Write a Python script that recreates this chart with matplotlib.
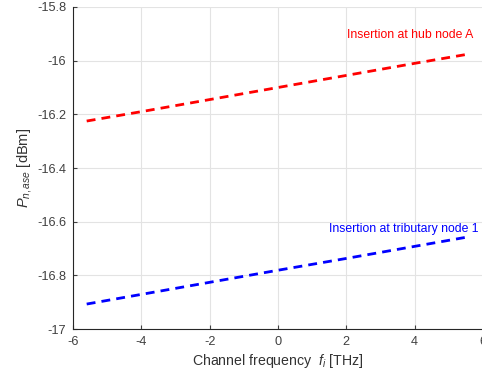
import matplotlib
matplotlib.use("Agg")
import matplotlib.pyplot as plt
import numpy as np

plt.rcParams['font.family'] = ['Liberation Sans', 'DejaVu Sans']
plt.rcParams['mathtext.fontset'] = 'custom'
plt.rcParams['mathtext.it'] = 'Liberation Sans:italic'
plt.rcParams['mathtext.rm'] = 'Liberation Sans'
plt.rcParams['axes.unicode_minus'] = False

freq_thz = [-5.6, -4, -2, 0, 2, 4, 5.6]
p_hub = [-16.225, -16.19, -16.145, -16.10, -16.055, -16.01, -15.975]
p_trib = [-16.907, -16.871, -16.826, -16.781, -16.737, -16.692, -16.656]
x_ticks = [-6, -4, -2, 0, 2, 4, 6]
y_ticks = [-17, -16.8, -16.6, -16.4, -16.2, -16, -15.8]
y_tick_labels = ['-17', '-16.8', '-16.6', '-16.4', '-16.2', '-16', '-15.8']

fig = plt.figure(figsize=(4.82, 3.74), dpi=100)
ax = fig.add_axes([0.1515, 0.1203, 0.8505, 0.861])

ax.plot(freq_thz, p_hub, color='#ff0000', linestyle=(0, (3.2, 2.2)), linewidth=2)
ax.plot(freq_thz, p_trib, color='#0000ff', linestyle=(0, (3.2, 2.2)), linewidth=2)

ax.text(2.01, -15.905, 'Insertion at hub node A', color='#ff0000', fontsize=8.8, va='center')
ax.text(1.50, -16.627, 'Insertion at tributary node 1', color='#0000ff', fontsize=8.8, va='center')

ax.set_xlim(-6, 6)
ax.set_ylim(-17, -15.8)
ax.set_xticks(x_ticks)
ax.set_yticks(y_ticks)
ax.set_yticklabels(y_tick_labels)
ax.grid(True, color='#e3e3e3', linewidth=0.8)
ax.set_axisbelow(True)
ax.tick_params(direction='in', length=3, labelsize=9.2, colors='#404040', pad=5)

for side in ['top', 'right']:
    ax.spines[side].set_visible(False)
for side in ['left', 'bottom']:
    ax.spines[side].set_color('#262626')
    ax.spines[side].set_linewidth(0.8)

ax.set_xlabel('Channel frequency  $f_i$ [THz]', fontsize=10.2, color='#333333', labelpad=3)
ax.set_ylabel('$P_{n,ase}$ [dBm]', fontsize=10.5, color='#333333', labelpad=2)

fig.savefig('out.png', dpi=100)
